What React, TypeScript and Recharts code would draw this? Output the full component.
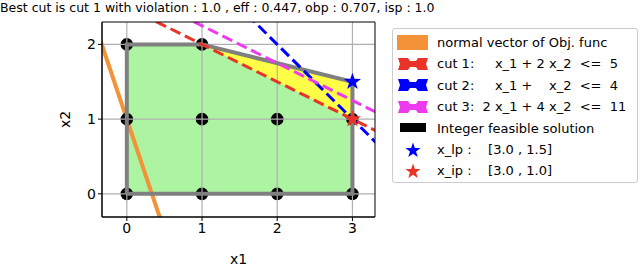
import React from 'react';
import {
  ComposedChart,
  Area,
  Line,
  Scatter,
  XAxis,
  YAxis,
  ReferenceLine,
  ReferenceArea,
} from 'recharts';

const X_DOMAIN = [-0.33, 3.3];
const Y_DOMAIN = [-0.31, 2.3];
const xTicks = [0, 1, 2, 3];
const yTicks = [0, 1, 2];

// LP relaxation region (top edge, filled down to x2 = 0)
const lpTop = [
  { x: 0, y: 2 },
  { x: 1, y: 2 },
  { x: 3, y: 1.5 },
];
// region cut off by cut 1
const cutOff = [
  { x: 1, lo: 2, hi: 2 },
  { x: 3, lo: 1, hi: 1.5 },
];
const lpOutline = [
  { x: 0, y: 0 },
  { x: 0, y: 2 },
  { x: 1, y: 2 },
  { x: 3, y: 1.5 },
  { x: 3, y: 0 },
  { x: 0, y: 0 },
];
const objNormal = [
  { x: -0.4, y: 2.2 },
  { x: 0.45, y: -0.35 },
];
const cut1 = [
  { x: 0.2, y: 2.4 },
  { x: 3.4, y: 0.8 },
];
const cut2 = [
  { x: 1.6, y: 2.4 },
  { x: 3.4, y: 0.6 },
];
const cut3 = [
  { x: 0.7, y: 2.4 },
  { x: 3.4, y: 1.05 },
];
const integerPoints = [
  { x: 0, y: 0 }, { x: 1, y: 0 }, { x: 2, y: 0 }, { x: 3, y: 0 },
  { x: 0, y: 1 }, { x: 1, y: 1 }, { x: 2, y: 1 }, { x: 3, y: 1 },
  { x: 0, y: 2 }, { x: 1, y: 2 },
];
const xLp = [{ x: 3, y: 1.5 }];
const xIp = [{ x: 3, y: 1 }];

const ORANGE = '#f39237';
const RED = '#ea3326';
const BLUE = '#0000ff';
const MAGENTA = '#ec3aec';
const GREEN = '#acf4a2';
const YELLOW = '#ffff47';
const FONT = '"DejaVu Sans", sans-serif';

const starPoints = (cx: number, cy: number, R: number) => {
  const r = R * 0.4;
  const pts: string[] = [];
  for (let i = 0; i < 10; i++) {
    const rad = i % 2 === 0 ? R : r;
    const a = -Math.PI / 2 + (i * Math.PI) / 5;
    pts.push(`${cx + rad * Math.cos(a)},${cy + rad * Math.sin(a)}`);
  }
  return pts.join(' ');
};

const Star = (color: string, R: number) => (props: any) =>
  <polygon points={starPoints(props.cx, props.cy, R)} fill={color} />;

const Dot = (props: any) => <circle cx={props.cx} cy={props.cy} r={6.3} fill="#000" />;

const DashPatch = ({ color }: { color: string }) => (
  <svg width={32} height={16}>
    <path
      d="M1 2 L11 2 L13 5 L19 5 L21 2 L31 2 L29 8 L31 14 L21 14 L19 11 L13 11 L11 14 L1 14 L3 8 Z"
      fill={color}
    />
  </svg>
);

const legendRows: { handle: React.ReactNode; text: string }[] = [
  { handle: <svg width={32} height={16}><rect x={0} y={0} width={31} height={15} fill={ORANGE} /></svg>, text: 'normal vector of Obj. func' },
  { handle: <DashPatch color={RED} />, text: 'cut 1:     x_1 + 2 x_2  <=  5' },
  { handle: <DashPatch color={BLUE} />, text: 'cut 2:     x_1 +    x_2  <=  4' },
  { handle: <DashPatch color={MAGENTA} />, text: 'cut 3:  2 x_1 + 4 x_2  <=  11' },
  { handle: <svg width={32} height={16}><rect x={3} y={3} width={26} height={9} fill="#000" /></svg>, text: 'Integer feasible solution' },
  { handle: <svg width={32} height={16}><polygon points={starPoints(16, 8.5, 8)} fill={BLUE} /></svg>, text: 'x_lp :    [3.0 , 1.5]' },
  { handle: <svg width={32} height={16}><polygon points={starPoints(16, 8.5, 8)} fill={RED} /></svg>, text: 'x_ip :    [3.0 , 1.0]' },
];

export default function App() {
  return (
    <div style={{ position: 'absolute', left: 0, top: 0, width: 640, height: 267, background: '#fff', fontFamily: FONT }}>
      <div style={{ position: 'absolute', left: 0, top: 0, fontSize: 12.5, whiteSpace: 'pre', color: '#000' }}>
        Best cut is cut 1 with violation : 1.0 , eff : 0.447, obp : 0.707, isp : 1.0
      </div>
      <ComposedChart
        width={640}
        height={267}
        margin={{ top: 22, right: 265, left: 62, bottom: 20 }}
        style={{ fontFamily: FONT }}
      >
        <XAxis
          type="number"
          dataKey="x"
          domain={X_DOMAIN}
          ticks={xTicks}
          allowDataOverflow
          height={30}
          tickSize={4}
          tick={{ fill: '#000', fontSize: 14 }}
          tickLine={{ stroke: '#000' }}
          axisLine={{ stroke: '#000' }}
          label={{ value: 'x1', position: 'bottom', offset: 7, fill: '#000', fontSize: 14 }}
        />
        <YAxis
          type="number"
          dataKey="y"
          domain={Y_DOMAIN}
          ticks={yTicks}
          allowDataOverflow
          width={40}
          tickSize={4}
          tick={{ fill: '#000', fontSize: 14 }}
          tickLine={{ stroke: '#000' }}
          axisLine={{ stroke: '#000' }}
          label={{ value: 'x2', angle: -90, position: 'insideLeft', offset: 3, fill: '#000', fontSize: 14, style: { textAnchor: 'middle' } }}
        />
        <Area data={lpTop} dataKey="y" type="linear" baseValue={0} fill={GREEN} fillOpacity={1} stroke="none" isAnimationActive={false} zIndex={100} />
        <Area data={cutOff} dataKey={(d: any) => [d.lo, d.hi]} type="linear" fill={YELLOW} fillOpacity={1} stroke="none" isAnimationActive={false} zIndex={101} />
        <Line data={objNormal} dataKey="y" type="linear" stroke={ORANGE} strokeWidth={4} dot={false} isAnimationActive={false} zIndex={120} />
        <Scatter data={integerPoints} dataKey="y" shape={Dot} isAnimationActive={false} zIndex={150} />
        {xTicks.map((t) => (
          <ReferenceLine key={`gx${t}`} x={t} stroke="#b0b0b0" strokeWidth={1.2} zIndex={200} />
        ))}
        {yTicks.map((t) => (
          <ReferenceLine key={`gy${t}`} y={t} stroke="#b0b0b0" strokeWidth={1.2} zIndex={200} />
        ))}
        <Line data={lpOutline} dataKey="y" type="linear" stroke="#808080" strokeWidth={4} dot={false} isAnimationActive={false} zIndex={400} />
        <Line data={cut1} dataKey="y" type="linear" stroke={RED} strokeWidth={3} strokeDasharray="11 5" dot={false} isAnimationActive={false} zIndex={410} />
        <Line data={cut2} dataKey="y" type="linear" stroke={BLUE} strokeWidth={3} strokeDasharray="11 5" dot={false} isAnimationActive={false} zIndex={410} />
        <Line data={cut3} dataKey="y" type="linear" stroke={MAGENTA} strokeWidth={3} strokeDasharray="11 5" dot={false} isAnimationActive={false} zIndex={410} />
        <Scatter data={xLp} dataKey="y" shape={Star(BLUE, 9)} isAnimationActive={false} zIndex={600} />
        <Scatter data={xIp} dataKey="y" shape={Star(RED, 9)} isAnimationActive={false} zIndex={600} />
        <ReferenceArea x1={X_DOMAIN[0]} x2={X_DOMAIN[1]} y1={Y_DOMAIN[0]} y2={Y_DOMAIN[1]} fill="none" stroke="#000" strokeWidth={1} ifOverflow="visible" zIndex={700} />
      </ComposedChart>
      <div
        style={{
          position: 'absolute',
          left: 392,
          top: 28,
          width: 244,
          height: 153,
          border: '1px solid #cccccc',
          borderRadius: 3,
          fontSize: 13,
          color: '#000',
        }}
      >
        {legendRows.map((r, i) => (
          <div key={i} style={{ position: 'absolute', left: 4, top: 5 + i * 21.4, height: 17, display: 'flex', alignItems: 'center' }}>
            <div style={{ width: 32, height: 16, marginRight: 8 }}>{r.handle}</div>
            <span style={{ whiteSpace: 'pre' }}>{r.text}</span>
          </div>
        ))}
      </div>
    </div>
  );
}
